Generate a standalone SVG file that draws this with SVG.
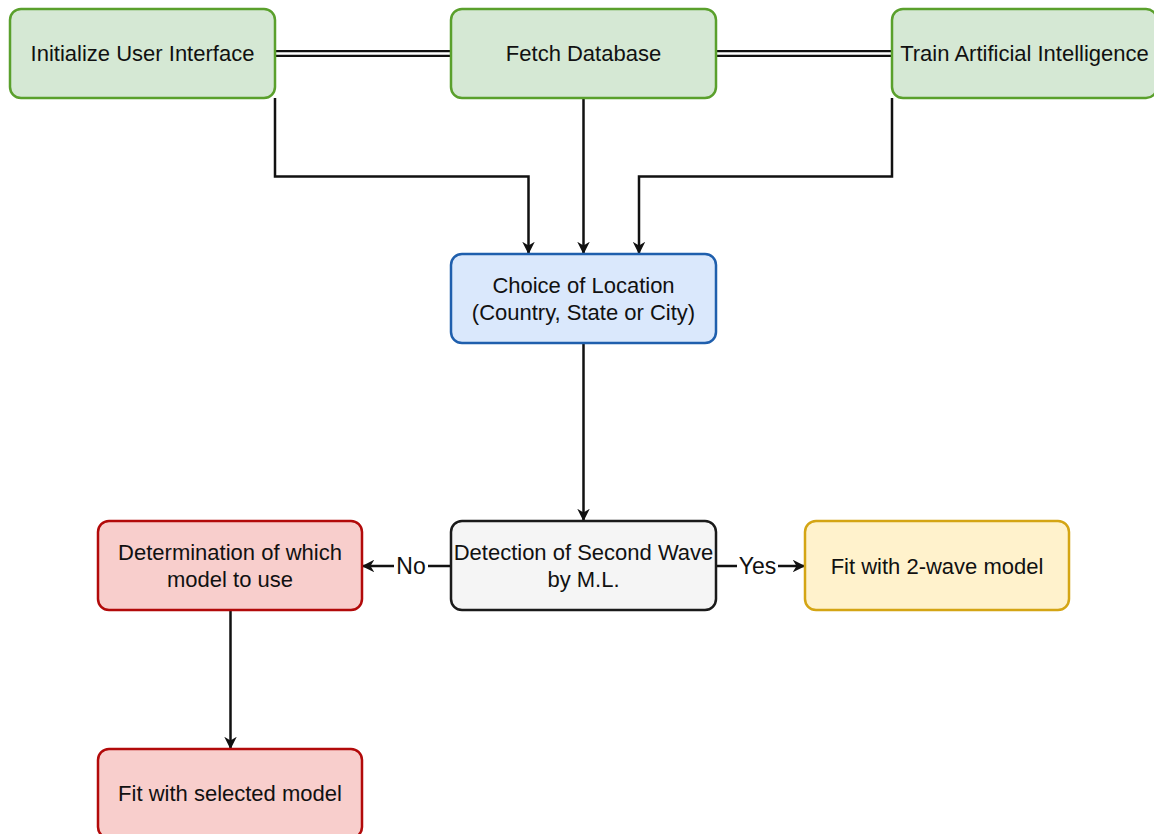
<svg xmlns="http://www.w3.org/2000/svg" width="1154" height="834" viewBox="0 0 1154 834">
<style>
text{font-family:"Liberation Sans",Arial,sans-serif;font-size:22px;fill:#111;text-anchor:middle;dominant-baseline:central}
text.lbl{font-size:23px}
.green{fill:#d5e8d4;stroke:#5aa02c;stroke-width:2.5}
.blue{fill:#dae8fc;stroke:#1f5fad;stroke-width:2.5}
.gray{fill:#f5f5f5;stroke:#1a1a1a;stroke-width:2.5}
.red{fill:#f8cecc;stroke:#b20a0a;stroke-width:2.5}
.yellow{fill:#fff2cc;stroke:#d4a514;stroke-width:2.5}
.edge{fill:none;stroke:#111;stroke-width:2.5}
.arr{marker-end:url(#ah)}
</style>
<defs>
<marker id="ah" viewBox="0 0 10 10" refX="9" refY="5" markerWidth="5" markerHeight="5" orient="auto" markerUnits="strokeWidth">
<path d="M0,0 L10,5 L0,10 L3,5 z" fill="#111"/>
</marker>
</defs>
<rect width="1154" height="834" fill="#fff"/>
<g id="connectors">
<g id="link1"><line x1="275" y1="53.5" x2="451" y2="53.5" stroke="#111" stroke-width="7"/><line x1="275" y1="53.5" x2="451" y2="53.5" stroke="#fff" stroke-width="2.5"/></g>
<g id="link2"><line x1="716" y1="53.5" x2="892" y2="53.5" stroke="#111" stroke-width="7"/><line x1="716" y1="53.5" x2="892" y2="53.5" stroke="#fff" stroke-width="2.5"/></g>
<path class="edge arr" d="M275,98 V176.5 H528.5 V253"/>
<path class="edge arr" d="M583.5,98 V253"/>
<path class="edge arr" d="M892,98 V176.5 H639 V253"/>
<path class="edge arr" d="M583.5,343 V520"/>
<path class="edge arr" d="M451,566 H428 M394,566 H363"/>
<text class="lbl" x="411" y="566">No</text>
<path class="edge arr" d="M716,566 H737 M778,566 H804"/>
<text class="lbl" x="757.5" y="566">Yes</text>
<path class="edge arr" d="M230.5,610 V748"/>
</g>
<g id="n-init"><rect class="green" x="10" y="9" width="265" height="89" rx="11"/><text x="142.5" y="53.5">Initialize User Interface</text></g>
<g id="n-fetch"><rect class="green" x="451" y="9" width="265" height="89" rx="11"/><text x="583.5" y="53.5">Fetch Database</text></g>
<g id="n-train"><rect class="green" x="892" y="9" width="265" height="89" rx="11"/><text x="1024.5" y="53.5">Train Artificial Intelligence</text></g>
<g id="n-choice"><rect class="blue" x="451" y="254" width="265" height="89" rx="11"/><text x="583.5" y="285.5">Choice of Location</text><text x="583.5" y="312.5">(Country, State or City)</text></g>
<g id="n-detect"><rect class="gray" x="451" y="521" width="265" height="89" rx="11"/><text x="583.5" y="552.5">Detection of Second Wave</text><text x="583.5" y="579.5">by M.L.</text></g>
<g id="n-determ"><rect class="red" x="98" y="521" width="264" height="89" rx="11"/><text x="230" y="552.5">Determination of which</text><text x="230" y="579.5">model to use</text></g>
<g id="n-fit2"><rect class="yellow" x="805" y="521" width="264" height="89" rx="11"/><text x="937" y="566">Fit with 2-wave model</text></g>
<g id="n-fitsel"><rect class="red" x="98" y="749" width="264" height="89" rx="11"/><text x="230" y="793.5">Fit with selected model</text></g>
</svg>
